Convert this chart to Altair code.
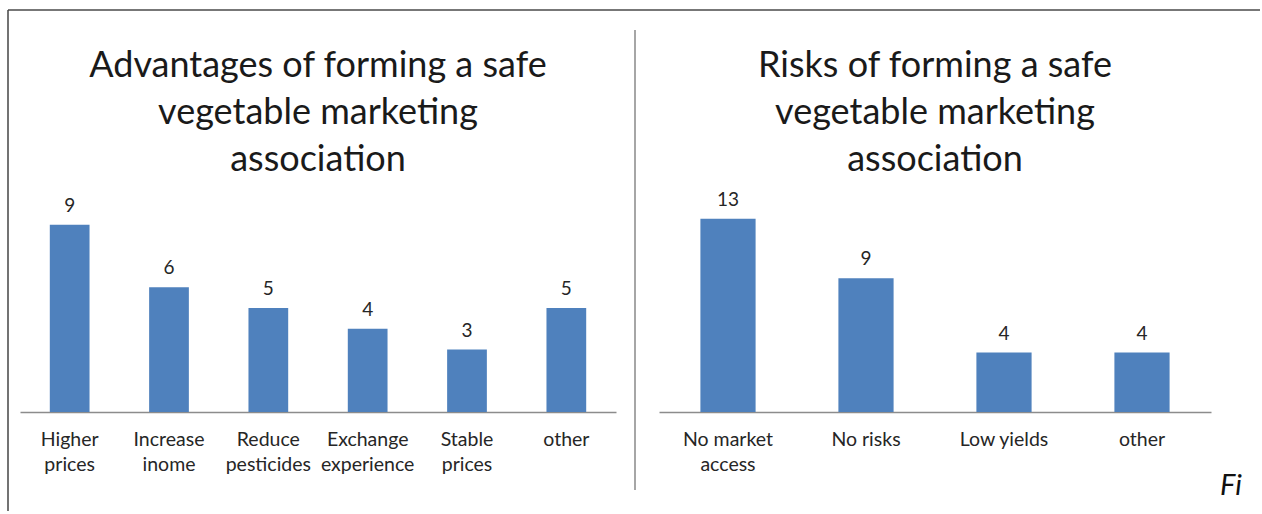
import altair as alt
import pandas as pd

adv_categories = ["Higher\nprices", "Increase\ninome", "Reduce\npesticides",
                  "Exchange\nexperience", "Stable\nprices", "other"]
adv_values = [9, 6, 5, 4, 3, 5]

risk_categories = ["No market\naccess", "No risks", "Low yields", "other"]
risk_values = [13, 9, 4, 4]

adv_title = ["Advantages of forming a safe", "vegetable marketing", "association"]
risk_title = ["Risks of forming a safe", "vegetable marketing", "association"]

FONT = "Lato"
BAR = "#4F81BD"
PLOT_H = 208


def panel(cats, vals, ymax, width, title):
    df = pd.DataFrame({"cat": cats, "v": vals})
    x = alt.X("cat:N", sort=None,
              scale=alt.Scale(paddingInner=0.6, paddingOuter=0.3),
              axis=alt.Axis(title=None, labelAngle=0, ticks=False,
                            labelExpr="split(datum.label, '\\n')",
                            labelFont=FONT, labelFontSize=19.5, labelColor="#262626",
                            labelLineHeight=25, labelPadding=18,
                            labelOverlap=False, labelLimit=0,
                            domainColor="#8c8c8c", domainWidth=1.5, grid=False))
    y = alt.Y("v:Q", scale=alt.Scale(domain=[0, ymax], nice=False), axis=None)
    base = alt.Chart(df)
    bars = base.mark_bar(color=BAR).encode(x=x, y=y)
    labels = base.mark_text(dy=-13, baseline="alphabetic", font=FONT, fontSize=19,
                            color="#262626").encode(x=x, y=y, text="v:Q")
    ttl = alt.Chart(pd.DataFrame({"k": [0]})).mark_text(
        font=FONT, fontSize=36, color="#1a1a1a", align="center",
        baseline="alphabetic", lineHeight=47).encode(
        x=alt.value(width / 2), y=alt.value(-127), text=alt.value(title))
    return alt.layer(bars, labels, ttl).properties(width=width, height=PLOT_H)


left = panel(adv_categories, adv_values, 10, 596, adv_title)
right = panel(risk_categories, risk_values, 14, 552, risk_title)

deco = pd.DataFrame({"k": [0]})
top_border = alt.Chart(deco).mark_rule(color="#777", strokeWidth=2).encode(
    x=alt.value(-12), x2=alt.value(1240), y=alt.value(-194))
left_border = alt.Chart(deco).mark_rule(color="#444", strokeWidth=1.5).encode(
    x=alt.value(-12), y=alt.value(-194), y2=alt.value(307))
divider = alt.Chart(deco).mark_rule(color="#a6a6a6", strokeWidth=2).encode(
    x=alt.value(615), y=alt.value(-174), y2=alt.value(286))
fi = alt.Chart(deco).mark_text(text="Fi", font=FONT, fontSize=29, fontStyle="italic",
                               align="left", baseline="alphabetic", color="#111").encode(
    x=alt.value(561), y=alt.value(291))

left = alt.layer(left, top_border, left_border, divider)
right = alt.layer(right, fi)

chart = alt.hconcat(left, right, spacing=43, bounds="flush").properties(
    padding={"left": 7, "top": 9, "right": 0, "bottom": 0}
).configure_view(strokeWidth=0)

chart.save("out.html", embed_options={"renderer": "svg", "actions": False})
